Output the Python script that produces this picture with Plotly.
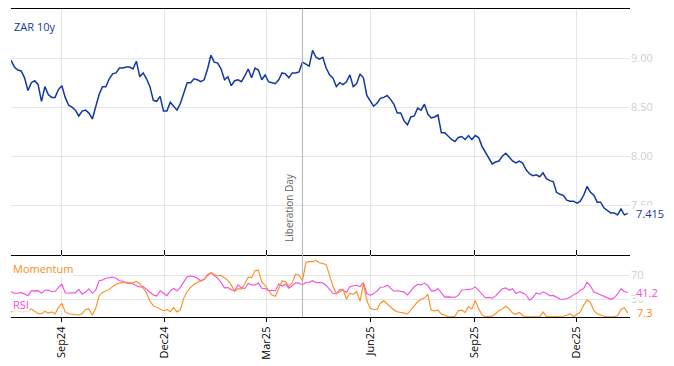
import pandas as pd
import plotly.graph_objects as go

# ---------------- data ----------------
dates = pd.date_range("2024-07-18", periods=183, freq="3D")

zar10y = [8.98, 8.91, 8.88, 8.87, 8.80, 8.67, 8.75, 8.77, 8.73, 8.56,
          8.71, 8.63, 8.60, 8.60, 8.68, 8.72, 8.60, 8.52, 8.50, 8.47,
          8.41, 8.46, 8.47, 8.44, 8.38, 8.52, 8.63, 8.71, 8.71, 8.79,
          8.84, 8.85, 8.90, 8.90, 8.91, 8.91, 8.89, 8.97, 8.81, 8.85,
          8.79, 8.71, 8.57, 8.56, 8.61, 8.46, 8.46, 8.55, 8.51, 8.47,
          8.54, 8.65, 8.75, 8.75, 8.79, 8.78, 8.76, 8.78, 8.89, 9.03,
          8.96, 8.95, 8.89, 8.78, 8.81, 8.72, 8.77, 8.78, 8.76, 8.82,
          8.89, 8.80, 8.90, 8.88, 8.78, 8.83, 8.76, 8.75, 8.74, 8.78,
          8.85, 8.84, 8.80, 8.85, 8.85, 8.86, 8.96, 8.94, 8.92, 9.08,
          9.01, 8.99, 9.01, 8.90, 8.83, 8.80, 8.71, 8.75, 8.73, 8.76,
          8.83, 8.71, 8.74, 8.84, 8.80, 8.62, 8.57, 8.51, 8.54, 8.59,
          8.60, 8.62, 8.58, 8.53, 8.44, 8.44, 8.36, 8.32, 8.40, 8.41,
          8.49, 8.47, 8.53, 8.43, 8.39, 8.40, 8.42, 8.24, 8.24, 8.20,
          8.17, 8.15, 8.19, 8.20, 8.17, 8.21, 8.17, 8.21, 8.19, 8.10,
          8.04, 7.97, 7.92, 7.94, 7.95, 8.00, 8.03, 7.99, 7.95, 7.93,
          7.95, 7.93, 7.86, 7.82, 7.80, 7.81, 7.79, 7.83, 7.77, 7.75,
          7.74, 7.63, 7.61, 7.60, 7.55, 7.54, 7.54, 7.52, 7.54, 7.60,
          7.69, 7.63, 7.60, 7.53, 7.53, 7.47, 7.44, 7.42, 7.42, 7.40,
          7.46, 7.40, 7.415]

momentum = [9.3, 10, 10.5, 9.3, 9.3, 9.8, 14, 9.3, 6, 6,
            10, 7, 9, 5.5, 16.7, 23, 9, 6, 5.5, 4.5,
            3.8, 6, 13, 14, 4, 15, 36, 41.5, 43.5, 46.5,
            51, 55, 57, 58.2, 58.8, 57.3, 57, 60, 56, 48.5,
            40.5, 27, 19, 16.7, 13.3, 11, 13, 9.3, 16, 9,
            13, 32, 43, 50, 55, 58.5, 61, 64, 68.8, 74.3,
            71.5, 69, 70, 65, 61.5, 54, 43, 48, 47, 56,
            67, 66, 77.5, 78.5, 59, 53, 44.5, 37, 35, 47.5,
            60.5, 59.5, 51.5, 58, 72, 70, 60, 91, 92.7, 92.7,
            95, 91, 89, 88, 70, 52, 40, 42, 46, 30,
            40, 38, 43, 27, 56.5, 28, 15.3, 13, 13, 23.5,
            27.5, 22, 17, 12.2, 9.3, 8.5, 7, 5.5, 13, 19,
            26, 30, 32, 38, 12, 10.5, 12, 5.5, 3.5, 1.2,
            1, 1.8, 11, 12, 8, 18, 14, 28, 14.5, 4,
            1, 1, 2, 6, 11, 14, 18.5, 14, 7, 5,
            8, 3, 1, 1, 1, 1, 1, 9, 1.5, 1,
            1, 1, 1, 1.8, 3.5, 6, 1.2, 5, 8.5, 20,
            29, 24.5, 11, 6, 3.3, 1.8, 1, 1, 1, 2.5,
            13, 16, 7.3]

rsi = [42.7, 40, 40, 41, 39, 36, 44, 44, 44.5, 40,
       45, 45.5, 42.5, 43, 50, 55, 41, 40, 41, 40.5,
       46.5, 38.5, 42, 47.5, 40, 45, 61, 62, 65, 66,
       67, 65, 61, 60, 56.7, 57, 55.8, 52.5, 50.5, 51,
       46, 41, 37.2, 35.5, 44, 40, 36, 44, 48, 44,
       50, 59, 67.5, 68.8, 68, 65, 60.5, 63, 71, 74,
       69, 65, 58, 49, 49.5, 46, 44, 54, 49, 48,
       56.5, 54, 53.8, 57, 48.5, 48, 44.3, 45, 44, 55.5,
       52, 55, 48.5, 53, 57.5, 57, 54, 58, 58.5, 61,
       57.5, 58, 57.5, 53, 46, 40, 38.8, 46, 45.5, 41.5,
       51, 52, 53.8, 51, 57.7, 40, 36.5, 39.5, 43.5, 50,
       50.5, 53.5, 49, 43.5, 44.3, 42.5, 42, 37.2, 44.5, 51,
       55, 54, 57, 53, 44, 44, 48, 40.5, 33.6, 34,
       33.3, 33.3, 36.5, 45.5, 45.8, 47, 47, 50.7, 45, 38,
       32.5, 33.2, 31.8, 35.7, 42, 47.5, 49, 45, 47.5, 39.5,
       42.5, 40.7, 37.5, 28.5, 33, 40.5, 38.5, 42.5, 39.5, 36,
       36.5, 33.3, 30.5, 30, 31, 33.5, 37.8, 40, 45.2, 48,
       58.5, 52, 42, 40, 37.2, 35.7, 32.3, 30, 32.5, 38.5,
       47.5, 43, 41.2]

tick_dates = ["2024-09-01", "2024-12-01", "2025-03-01", "2025-06-01", "2025-09-01", "2025-12-01"]
tick_labels = ["Sep24", "Dec24", "Mar25", "Jun25", "Sep25", "Dec25"]
price_ticks = [7.5, 8.0, 8.5, 9.0]
osc_ticks = [30, 70]
event_date = "2025-04-02"
event_label = "Liberation Day"

# ---------------- style ----------------
BLUE = "#1238a0"
ORANGE = "#ff8c1a"
MAGENTA = "#f44cdc"
GRID = "#e6e6e6"
TICKTXT = "#cfcfcf"
FONT = "Open Sans"
SPLIT = 62 / 308
x_range = ["2024-07-18", "2026-01-17"]

fig = go.Figure()
fig.add_trace(go.Scatter(x=dates, y=zar10y, mode="lines", name="ZAR 10y",
                         line=dict(color=BLUE, width=1.5), xaxis="x", yaxis="y"))
fig.add_trace(go.Scatter(x=dates, y=rsi, mode="lines", name="RSI",
                         line=dict(color=MAGENTA, width=1.1), xaxis="x2", yaxis="y2"))
fig.add_trace(go.Scatter(x=dates, y=momentum, mode="lines", name="Momentum",
                         line=dict(color=ORANGE, width=1.1), xaxis="x2", yaxis="y2"))

common_x = dict(type="date", range=x_range, tickvals=tick_dates, ticktext=tick_labels,
                showgrid=True, gridcolor=GRID, gridwidth=1, zeroline=False,
                showline=True, linecolor="black", linewidth=1.3,
                tickcolor="black", tickwidth=1)

# the page body adds an 8px offset, so the figure is sized to fit the window after it
fig.update_layout(
    width=666, height=358,
    margin=dict(l=3, r=44, t=1, b=49, autoexpand=False),
    paper_bgcolor="white", plot_bgcolor="white",
    showlegend=False,
    font=dict(family=FONT, size=11, color="black"),
    xaxis=dict(domain=[0, 1], anchor="y", showticklabels=False, mirror=True,
               ticks="inside", ticklen=5, **common_x),
    yaxis=dict(domain=[SPLIT, 1], anchor="x", side="right", range=[6.99, 9.503],
               tickvals=price_ticks, tickformat=".2f", showgrid=True, gridcolor=GRID,
               zeroline=False, showline=False, ticks="",
               tickfont=dict(color=TICKTXT, size=11, family=FONT)),
    xaxis2=dict(domain=[0, 1], anchor="y2", ticks="outside", ticklen=4, tickangle=-90,
                mirror=False,
                tickfont=dict(size=11, color="black", family=FONT), **common_x),
    yaxis2=dict(domain=[0, SPLIT], anchor="x2", side="right", range=[0.5, 103.8],
                tickvals=osc_ticks, showgrid=True, gridcolor=GRID, zeroline=False,
                showline=False, ticks="",
                tickfont=dict(color=TICKTXT, size=11, family=FONT)),
)

# event line through both panels
fig.add_shape(type="line", xref="x", yref="paper", x0=event_date, x1=event_date,
              y0=0, y1=1, line=dict(color="#b4b4b4", width=1), layer="above")
fig.add_annotation(text=event_label, textangle=-90, xref="x", yref="paper",
                   x=event_date, y=SPLIT, xanchor="right", yanchor="bottom",
                   xshift=-5, yshift=11, showarrow=False,
                   font=dict(size=10, color="#666666", family=FONT))

# series titles
fig.add_annotation(text="ZAR 10y", xref="paper", yref="paper", x=0, y=1,
                   xanchor="left", yanchor="top", xshift=1, yshift=-8, showarrow=False,
                   font=dict(size=11, color=BLUE, family=FONT))
fig.add_annotation(text="Momentum", xref="paper", yref="paper", x=0, y=SPLIT,
                   xanchor="left", yanchor="top", xshift=1, yshift=-5, showarrow=False,
                   bgcolor="rgba(255,255,255,0.75)", borderpad=0,
                   font=dict(size=11, color=ORANGE, family=FONT))
fig.add_annotation(text="RSI", xref="paper", yref="paper", x=0, y=0,
                   xanchor="left", yanchor="bottom", xshift=1, yshift=4, showarrow=False,
                   bgcolor="rgba(255,255,255,0.75)", borderpad=0,
                   font=dict(size=11, color=MAGENTA, family=FONT))

# last-value labels
fig.add_annotation(text=f"{zar10y[-1]:.3f}", xref="paper", yref="y", x=1, y=zar10y[-1],
                   xanchor="left", yanchor="middle", xshift=5, showarrow=False,
                   bgcolor="white", borderpad=0,
                   font=dict(size=11, color=BLUE, family=FONT))
fig.add_annotation(text=f"{rsi[-1]:.1f}", xref="paper", yref="y2", x=1, y=rsi[-1],
                   xanchor="left", yanchor="middle", xshift=5, showarrow=False,
                   bgcolor="white", borderpad=0,
                   font=dict(size=11, color=MAGENTA, family=FONT))
fig.add_annotation(text=f"{momentum[-1]:.1f}", xref="paper", yref="y2", x=1, y=momentum[-1],
                   xanchor="left", yanchor="middle", xshift=5, showarrow=False,
                   font=dict(size=11, color=ORANGE, family=FONT))

fig.write_html("out.html")
